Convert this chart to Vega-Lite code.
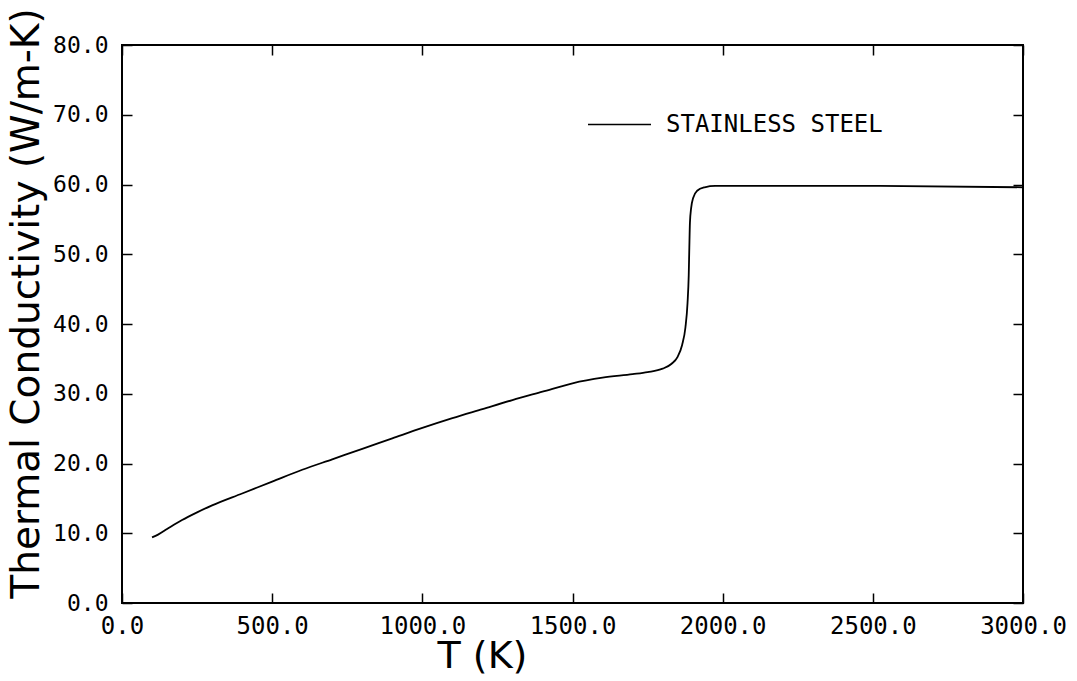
{
  "$schema": "https://vega.github.io/schema/vega-lite/v6.json",
  "width": 901,
  "height": 558,
  "autosize": {"type": "none"},
  "padding": {"left": 122, "top": 45, "right": 54, "bottom": 78},
  "background": "white",
  "config": {
    "view": {"stroke": "black", "strokeWidth": 2},
    "font": "DejaVu Sans",
    "axis": {"grid": false, "domain": false, "tickColor": "black", "tickWidth": 1.5, "tickSize": -10, "labelColor": "black", "titleColor": "black", "labelFont": "DejaVu Sans Mono", "titleFont": "DejaVu Sans", "titleFontWeight": "normal"}
  },
  "data": {"values": [
    {"T": 100, "k": 9.4, "series": "STAINLESS STEEL"},
    {"T": 120, "k": 9.8, "series": "STAINLESS STEEL"},
    {"T": 150, "k": 10.6, "series": "STAINLESS STEEL"},
    {"T": 200, "k": 11.9, "series": "STAINLESS STEEL"},
    {"T": 250, "k": 13.0, "series": "STAINLESS STEEL"},
    {"T": 300, "k": 14.0, "series": "STAINLESS STEEL"},
    {"T": 400, "k": 15.7, "series": "STAINLESS STEEL"},
    {"T": 500, "k": 17.4, "series": "STAINLESS STEEL"},
    {"T": 600, "k": 19.1, "series": "STAINLESS STEEL"},
    {"T": 700, "k": 20.6, "series": "STAINLESS STEEL"},
    {"T": 800, "k": 22.1, "series": "STAINLESS STEEL"},
    {"T": 900, "k": 23.6, "series": "STAINLESS STEEL"},
    {"T": 1000, "k": 25.1, "series": "STAINLESS STEEL"},
    {"T": 1100, "k": 26.5, "series": "STAINLESS STEEL"},
    {"T": 1200, "k": 27.8, "series": "STAINLESS STEEL"},
    {"T": 1300, "k": 29.1, "series": "STAINLESS STEEL"},
    {"T": 1400, "k": 30.3, "series": "STAINLESS STEEL"},
    {"T": 1500, "k": 31.5, "series": "STAINLESS STEEL"},
    {"T": 1600, "k": 32.3, "series": "STAINLESS STEEL"},
    {"T": 1700, "k": 32.8, "series": "STAINLESS STEEL"},
    {"T": 1750, "k": 33.1, "series": "STAINLESS STEEL"},
    {"T": 1800, "k": 33.6, "series": "STAINLESS STEEL"},
    {"T": 1830, "k": 34.3, "series": "STAINLESS STEEL"},
    {"T": 1850, "k": 35.3, "series": "STAINLESS STEEL"},
    {"T": 1865, "k": 37.0, "series": "STAINLESS STEEL"},
    {"T": 1876, "k": 39.5, "series": "STAINLESS STEEL"},
    {"T": 1883, "k": 43.0, "series": "STAINLESS STEEL"},
    {"T": 1887, "k": 47.0, "series": "STAINLESS STEEL"},
    {"T": 1889, "k": 51.0, "series": "STAINLESS STEEL"},
    {"T": 1891, "k": 54.5, "series": "STAINLESS STEEL"},
    {"T": 1895, "k": 56.6, "series": "STAINLESS STEEL"},
    {"T": 1902, "k": 58.1, "series": "STAINLESS STEEL"},
    {"T": 1915, "k": 59.1, "series": "STAINLESS STEEL"},
    {"T": 1940, "k": 59.6, "series": "STAINLESS STEEL"},
    {"T": 1975, "k": 59.8, "series": "STAINLESS STEEL"},
    {"T": 2500, "k": 59.8, "series": "STAINLESS STEEL"},
    {"T": 3000, "k": 59.6, "series": "STAINLESS STEEL"}
  ]},
  "layer": [
    {
      "mark": {"type": "line", "interpolate": "monotone", "strokeWidth": 1.8},
      "encoding": {
        "x": {"field": "T", "type": "quantitative", "scale": {"domain": [0, 3000], "nice": false, "zero": false},
          "axis": {"orient": "bottom", "values": [0, 500, 1000, 1500, 2000, 2500, 3000], "format": ".1f", "labelFontSize": 24, "labelPadding": 21, "labelFlush": false, "labelOverlap": false,
            "title": "T  (K)", "titleFontSize": 38, "titleX": 360, "titleY": 34, "titleAnchor": "middle", "titleBaseline": "top"}},
        "y": {"field": "k", "type": "quantitative", "scale": {"domain": [0, 80], "nice": false},
          "axis": {"orient": "left", "values": [0, 10, 20, 30, 40, 50, 60, 70, 80], "format": ".1f", "labelFontSize": 23, "labelPadding": 24, "labelFlush": false, "labelOverlap": false,
            "title": "Thermal Conductivity  (W/m-K)", "titleFontSize": 39, "titleX": -84, "titleY": 258, "titleAngle": -90, "titleAnchor": "middle", "titleBaseline": "alphabetic", "titleAlign": "center"}},
        "color": {"field": "series", "type": "nominal", "scale": {"range": ["black"]},
          "legend": {"title": null, "orient": "none", "legendX": 465, "legendY": 47, "symbolType": "stroke", "symbolSize": 3969, "symbolStrokeWidth": 1.5, "labelFontSize": 24, "labelOffset": 14, "labelLimit": 400, "labelColor": "black", "labelFont": "DejaVu Sans Mono"}}
      }
    },
    {
      "mark": {"type": "line", "opacity": 0},
      "encoding": {
        "x": {"field": "T", "type": "quantitative", "axis": {"orient": "top", "values": [0, 500, 1000, 1500, 2000, 2500, 3000], "labels": false, "title": null}},
        "y": {"field": "k", "type": "quantitative", "axis": {"orient": "right", "values": [0, 10, 20, 30, 40, 50, 60, 70, 80], "labels": false, "title": null}}
      }
    }
  ],
  "resolve": {"axis": {"x": "independent", "y": "independent"}}
}
